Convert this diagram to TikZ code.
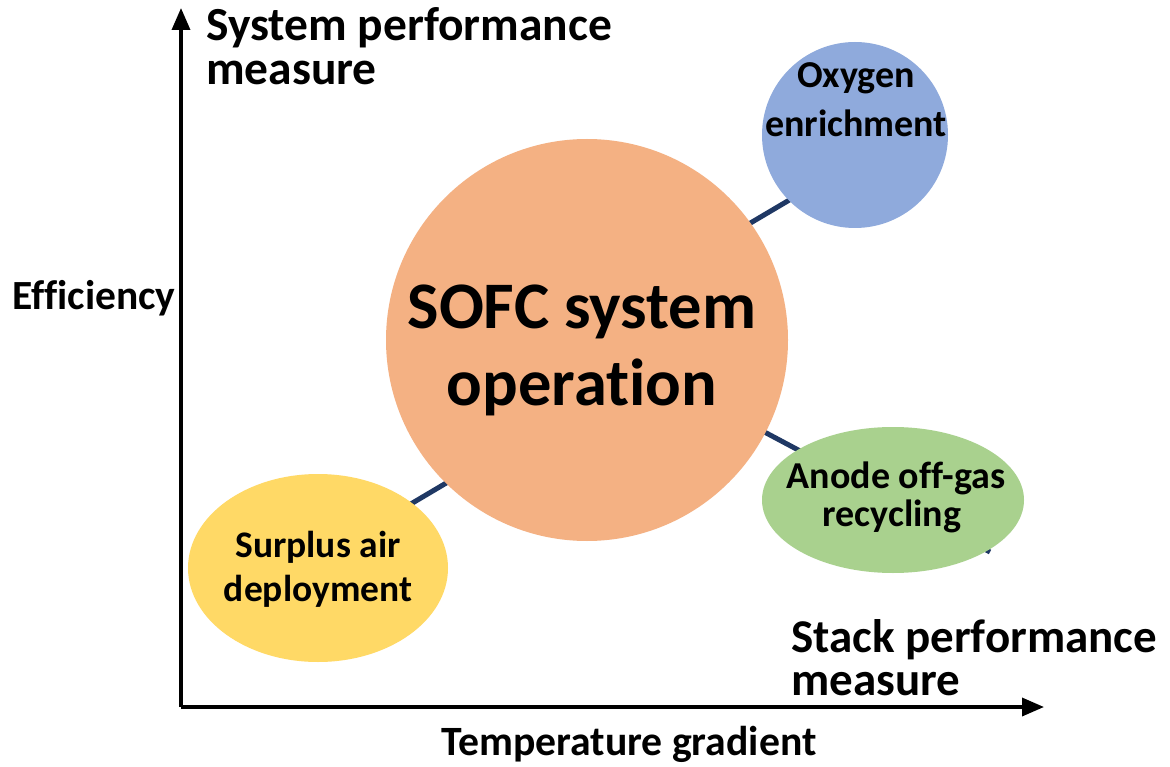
\documentclass[tikz,border=0pt]{standalone}
\usepackage{fontspec}
\setmainfont{Carlito}[Ligatures=NoCommon]
\usetikzlibrary{arrows.meta,shapes.geometric}
\definecolor{sofcfill}{HTML}{F4B183}
\definecolor{oxyfill}{HTML}{8FAADC}
\definecolor{anodefill}{HTML}{A9D18E}
\definecolor{airfill}{HTML}{FFD966}
\definecolor{linkcol}{HTML}{1F3864}
\tikzset{
  axis/.style={line width=3.5pt,-{Triangle[length=22pt,width=18pt]}},
  link/.style={line width=5pt,linkcol},
  bubble/.style={circle,draw=none,inner sep=0pt},
  oval/.style={ellipse,draw=none,inner sep=0pt},
  txt/.style={inner sep=0pt,anchor=base,font=\bfseries\fontsize{#1}{#1}\selectfont},
  ltxt/.style={inner sep=0pt,anchor=base west,font=\bfseries\fontsize{#1}{#1}\selectfont},
}
\begin{document}
\begin{tikzpicture}[x=1pt,y=-1pt]
\useasboundingbox (0,0) rectangle (1170,767);
\fill[white] (0,0) rectangle (1170,767);

% link lines, drawn first so the bubbles cover their ends
\coordinate (la1) at (350,540);
\coordinate (la2) at (480,463);
\coordinate (lb1) at (720,241);
\coordinate (lb2) at (830,176);
\coordinate (lc1) at (740,419);
\coordinate (lc2) at (990,552);
\draw[link] (la1) -- (la2);
\draw[link] (lb1) -- (lb2);
\draw[link] (lc1) -- (lc2);

% axes
\coordinate (origin) at (181,707);
\coordinate (ytip) at (181,8);
\coordinate (xtip) at (1044,707);
\draw[axis] (origin) -- (ytip);
\draw[axis] (origin) -- (xtip);

% bubbles
\node[bubble,fill=sofcfill,minimum size=402pt] (sofc) at (587,340) {};
\node[bubble,fill=oxyfill,minimum size=186pt] (oxy) at (855,135) {};
\node[oval,fill=anodefill,minimum width=262pt,minimum height=146pt] (anode) at (893,500) {};
\node[oval,fill=airfill,minimum width=260pt,minimum height=188pt] (air) at (318,568) {};

% bubble texts
\node[txt=66.5] (sofc1) at (582,328) {SOFC system};
\node[txt=66.5] (sofc2) at (582,405) {operation};
\node[txt=38] (oxy1) at (856,88) {Oxygen};
\node[txt=38] (oxy2) at (856,137) {enrichment};
\node[txt=38] (anode1) at (896,488) {Anode off-gas};
\node[txt=38] (anode2) at (892,526) {recycling};
\node[txt=37.5] (air1) at (318,557) {Surplus air};
\node[txt=37.5] (air2) at (318,601) {deployment};

% axis labels
\node[ltxt=47.5] (ylab1) at (206,41) {System performance};
\node[ltxt=47.5] (ylab2) at (206,85) {measure};
\node[ltxt=47] (xlab1) at (791,652) {Stack performance};
\node[ltxt=47] (xlab2) at (791,695) {measure};
\node[ltxt=41.5] (eff) at (12,310) {Efficiency};
\node[ltxt=41.7] (temp) at (441,755) {Temperature gradient};
\end{tikzpicture}
\end{document}
